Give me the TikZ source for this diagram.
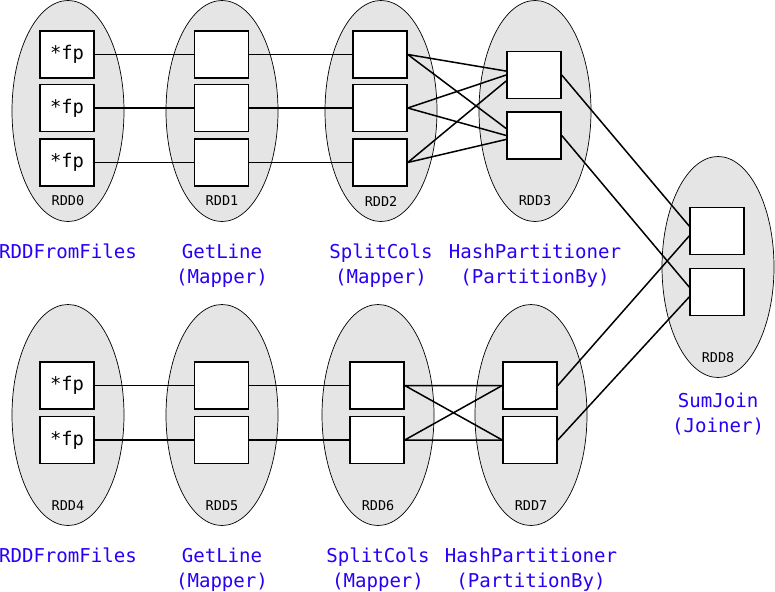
\documentclass[tikz,border=0pt]{standalone}
\usepackage{fontspec}
\setmonofont{DejaVu Sans Mono}
\usetikzlibrary{shapes.geometric}
\definecolor{opblue}{RGB}{40,0,245}

\begin{document}
\begin{tikzpicture}[x=1pt,y=-1pt,
	rdd/.style={draw,ellipse,fill=black!10,line width=0.7pt,minimum width=112pt,minimum height=221pt,inner sep=0pt},
	part/.style={draw,fill=white,line width=1.5pt,minimum width=54pt,minimum height=47pt,inner sep=0pt,font=\ttfamily\fontsize{18.8}{22}\selectfont},
	rddname/.style={font=\ttfamily\fontsize{13.5}{16}\selectfont},
	opname/.style={text=opblue,align=center,anchor=base,font=\ttfamily\fontsize{19.1}{25}\selectfont},
	link/.style={line width=1.5pt}]
					\useasboundingbox (0,0) rectangle (775,591);
					%ELLIPSES
					\node[rdd] (rdd0) at (68,111) {};
					\node[rdd] (rdd1) at (222,111) {};
					\node[rdd] (rdd2) at (381,111) {};
					\node[rdd] (rdd3) at (535,111) {};
					\node[rdd] (rdd4) at (68,415) {};
					\node[rdd] (rdd5) at (222,415) {};
					\node[rdd] (rdd6) at (378,415) {};
					\node[rdd] (rdd7) at (531,415) {};
					\node[rdd] (rdd8) at (718,267) {};
					
					\node[rddname] (n0) at (68,201) {RDD0};
					\node[rddname] (n1) at (222,201) {RDD1};
					\node[rddname] (n2) at (381,201) {RDD2};
					\node[rddname] (n3) at (535,201) {RDD3};
					\node[rddname] (n4) at (68,506) {RDD4};
					\node[rddname] (n5) at (222,506) {RDD5};
					\node[rddname] (n6) at (378,506) {RDD6};
					\node[rddname] (n7) at (531,506) {RDD7};
					\node[rddname] (n8) at (718,358) {RDD8};
					
					%PARTITIONS
					\node[part] (p0a) at (67,54.5) {*fp};
					\node[part] (p0b) at (67,108) {*fp};
					\node[part] (p0c) at (67,162.5) {*fp};
					\node[part] (p1a) at (221.5,54.5) {};
					\node[part] (p1b) at (221.5,108) {};
					\node[part] (p1c) at (221.5,162.5) {};
					\node[part] (p2a) at (380,54.5) {};
					\node[part] (p2b) at (380,108) {};
					\node[part] (p2c) at (380,162.5) {};
					\node[part] (p3a) at (534,75) {};
					\node[part] (p3b) at (534,135.5) {};
					
					\node[part] (p4a) at (67,385.5) {*fp};
					\node[part] (p4b) at (67,440) {*fp};
					\node[part] (p5a) at (221.5,385.5) {};
					\node[part] (p5b) at (221.5,440) {};
					\node[part] (p6a) at (377,385.5) {};
					\node[part] (p6b) at (377,440) {};
					\node[part] (p7a) at (530,385.5) {};
					\node[part] (p7b) at (530,440) {};
					
					\node[part] (p8a) at (717,231) {};
					\node[part] (p8b) at (717,292) {};
					
					%LINKS
					\draw[link] (p0a) -- (p1a) (p1a) -- (p2a);
					\draw[link] (p0b) -- (p1b) (p1b) -- (p2b);
					\draw[link] (p0c) -- (p1c) (p1c) -- (p2c);
					\draw[link] (p2a.east) -- (p3a.172) (p2a.east) -- (p3b.166);
					\draw[link] (p2b.east) -- (p3a.west) (p2b.east) -- (p3b.west);
					\draw[link] (p2c.east) -- (p3a.192) (p2c.east) -- (p3b.188);
					
					\draw[link] (p4a) -- (p5a) (p5a) -- (p6a);
					\draw[link] (p4b) -- (p5b) (p5b) -- (p6b);
					\draw[link] (p6a.east) -- (p7a.west) (p6a.east) -- (p7b.west);
					\draw[link] (p6b.east) -- (p7a.west) (p6b.east) -- (p7b.west);
					
					\draw[link] (p3a.east) -- (p8a.170) (p3b.east) -- (p8b.170);
					\draw[link] (p7a.east) -- (p8a.190) (p7b.east) -- (p8b.190);
					
					%OPERATIONS (base is the last line)
					\node[opname] (op0) at (68,258) {RDDFromFiles};
					\node[opname] (op1) at (222,283) {GetLine\\(Mapper)};
					\node[opname] (op2) at (381,283) {SplitCols\\(Mapper)};
					\node[opname] (op3) at (535,283) {HashPartitioner\\(PartitionBy)};
					\node[opname] (op4) at (68,562) {RDDFromFiles};
					\node[opname] (op5) at (222,587) {GetLine\\(Mapper)};
					\node[opname] (op6) at (378,587) {SplitCols\\(Mapper)};
					\node[opname] (op7) at (531,587) {HashPartitioner\\(PartitionBy)};
					\node[opname] (op8) at (718,432) {SumJoin\\(Joiner)};
\end{tikzpicture}
\end{document}
